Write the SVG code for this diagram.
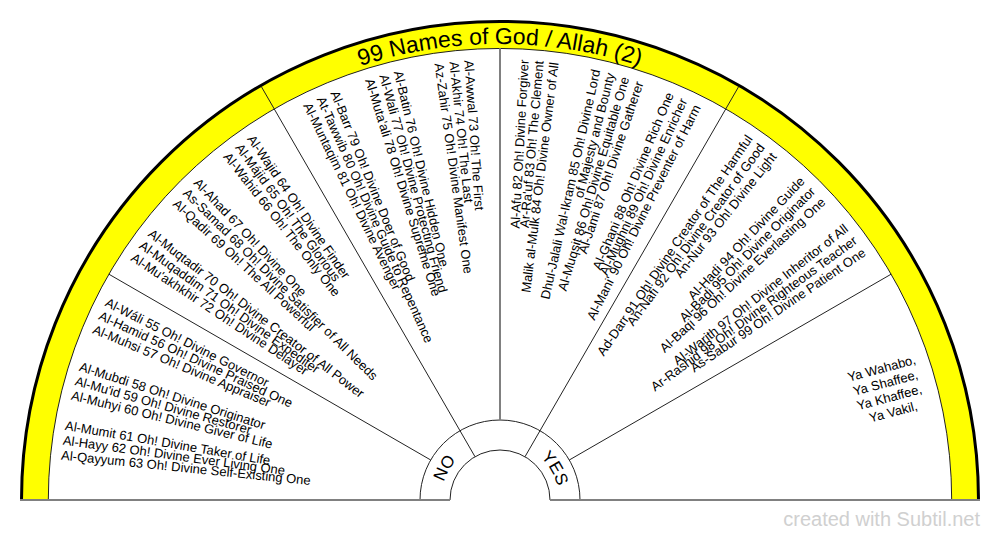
<svg xmlns="http://www.w3.org/2000/svg" width="1000" height="540" viewBox="0 0 1000 540">
<style>
.lbl{font-family:"Liberation Sans",Arial,sans-serif;font-size:13px;fill:#000}
.l{text-anchor:start}
.r{text-anchor:end}
.div{stroke:#222;stroke-width:1;fill:none}
.axis{stroke:#808080;stroke-width:2;fill:none}
.yn{font-family:"Liberation Sans",Arial,sans-serif;font-size:17px;fill:#000;text-anchor:middle}
</style>
<defs>
<path id="titleArc" d="M 44 500 A 456 456 0 0 1 956 500"/>
<path id="ynArc" d="M 441 500 A 59 59 0 0 1 559 500"/>
</defs>
<rect width="1000" height="540" fill="#fff"/>
<g id="frame">
<path d="M 22 500 A 478 478 0 0 1 978 500 L 951.7 500 A 451.7 451.7 0 0 0 48.3 500 Z" fill="#ffff00"/>
<path d="M 48.3 500 A 451.7 451.7 0 0 1 951.7 500" class="div"/>
<path d="M 21.5 500 A 478.5 478.5 0 0 1 978.5 500" fill="none" stroke="#000" stroke-width="3"/>
<path d="M 420 500 A 80 80 0 0 1 580 500" class="div"/>
<path d="M 450 500 A 50 50 0 0 1 550 500" class="div"/>
<line x1="20" y1="500" x2="450" y2="500" class="axis"/>
<line x1="550" y1="500" x2="980" y2="500" class="axis"/>
</g>
<g id="connectors">
<line x1="500" y1="420" x2="500" y2="48.3" class="axis"/>
<line x1="569.28" y1="460" x2="891.2" y2="274.15" class="div"/>
<line x1="430.72" y1="460" x2="108.8" y2="274.15" class="div"/>
<line x1="525" y1="456.7" x2="738.5" y2="86.9" class="div"/>
<line x1="475" y1="456.7" x2="261.5" y2="86.9" class="div"/>
</g>
<g id="title">
<text font-family="'Liberation Sans',Arial,sans-serif" font-size="23" fill="#000" text-anchor="middle"><textPath href="#titleArc" startOffset="50%">99 Names of God / Allah (2)</textPath></text>
</g>
<g id="no">
<text class="yn"><textPath href="#ynArc" startOffset="16.67%">NO</textPath></text>
</g>
<g id="yes">
<text class="yn"><textPath href="#ynArc" startOffset="83.33%">YES</textPath></text>
</g>
<g id="g55" class="lbl l">
<text x="59" y="504.5" transform="rotate(26.75 500 500)">Al-Wáli 55 Oh! Divine Governor</text>
<text x="59" y="504.5" transform="rotate(24.8 500 500)">Al-Hamid 56 Oh! Divine Praised One</text>
<text x="59" y="504.5" transform="rotate(22.85 500 500)">Al-Muhsi 57 Oh! Divine Appraiser</text>
</g>
<g id="g58" class="lbl l">
<text x="59" y="504.5" transform="rotate(17.65 500 500)">Al-Mubdi 58 Oh! Divine Originator</text>
<text x="59" y="504.5" transform="rotate(15.7 500 500)">Al-Mu'id 59 Oh! Divine Restorer</text>
<text x="59" y="504.5" transform="rotate(13.75 500 500)">Al-Muhyi 60 Oh! Divine Giver of Life</text>
</g>
<g id="g61" class="lbl l">
<text x="59" y="504.5" transform="rotate(9.75 500 500)">Al-Mumit 61 Oh! Divine Taker of Life</text>
<text x="59" y="504.5" transform="rotate(7.8 500 500)">Al-Hayy 62 Oh! Divine Ever Living One</text>
<text x="59" y="504.5" transform="rotate(5.85 500 500)">Al-Qayyum 63 Oh! Divine Self-Existing One</text>
</g>
<g id="g64" class="lbl l">
<text x="59" y="504.5" transform="rotate(55.55 500 500)">Al-Wajid 64 Oh! Divine Finder</text>
<text x="59" y="504.5" transform="rotate(53.6 500 500)">Al-Májid 65 Oh! The Glorious</text>
<text x="59" y="504.5" transform="rotate(51.65 500 500)">Al-Wahid 66 Oh! The Only One</text>
</g>
<g id="g67" class="lbl l">
<text x="59" y="504.5" transform="rotate(46.45 500 500)">Al-Ahad 67 Oh! Divine One</text>
<text x="59" y="504.5" transform="rotate(44.5 500 500)">As-Samad 68 Oh! Divine Satisfier of All Needs</text>
<text x="59" y="504.5" transform="rotate(42.55 500 500)">Al-Qadir 69 Oh! The All Powerful</text>
</g>
<g id="g70" class="lbl l">
<text x="59" y="504.5" transform="rotate(37.45 500 500)">Al-Muqtadir 70 Oh! Divine Creator of All Power</text>
<text x="59" y="504.5" transform="rotate(35.5 500 500)">Al-Muqaddim 71 Oh! Divine Expediter</text>
<text x="59" y="504.5" transform="rotate(33.55 500 500)">Al-Mu'akhkhir 72 Oh! Divine Delayer</text>
</g>
<g id="g73" class="lbl l">
<text x="59" y="504.5" transform="rotate(85.95 500 500)">Al-Awwal 73 Oh! The First</text>
<text x="59" y="504.5" transform="rotate(84 500 500)">Al-Akhir 74 Oh! The Last</text>
<text x="59" y="504.5" transform="rotate(82.05 500 500)">Az-Zahir 75 Oh! Divine Manifest One</text>
</g>
<g id="g76" class="lbl l">
<text x="59" y="504.5" transform="rotate(76.65 500 500)">Al-Batin 76 Oh! Divine Hidden One</text>
<text x="59" y="504.5" transform="rotate(74.7 500 500)">Al-Wali 77 Oh! Divine Protecting Friend</text>
<text x="59" y="504.5" transform="rotate(72.75 500 500)">Al-Muta'ali 78 Oh! Divine Supreme One</text>
</g>
<g id="g79" class="lbl l">
<text x="59" y="504.5" transform="rotate(67.95 500 500)">Al-Barr 79 Oh! Divine Doer of Good</text>
<text x="59" y="504.5" transform="rotate(66 500 500)">At-Tawwib 80 Oh! Divine Guide to Repentance</text>
<text x="59" y="504.5" transform="rotate(64.05 500 500)">Al-Muntaqim 81 Oh! Divine Avenger</text>
</g>
<g id="g82" class="lbl r">
<text x="941" y="504.5" transform="rotate(-86.85 500 500)">Al-Afu 82 Oh! Divine Forgiver</text>
<text x="941" y="504.5" transform="rotate(-84.9 500 500)">Ar-Ra'uf 83 Oh! The Clement</text>
<text x="941" y="504.5" transform="rotate(-82.95 500 500)">Malik al-Mulk 84 Oh! Divine Owner of All</text>
</g>
<g id="g85" class="lbl r">
<text x="941" y="504.5" transform="rotate(-77.425 500 500)">Dhul-Jalali Wal-Ikram 85 Oh! Divine Lord</text>
<text x="941" y="504.5" transform="rotate(-75.475 500 500)">of Majesty and Bounty</text>
<text x="941" y="504.5" transform="rotate(-73.525 500 500)">Al-Muqsit 86 Oh! Divine Equitable One</text>
<text x="941" y="504.5" transform="rotate(-71.575 500 500)">Al-Jami 87 Oh! Divine Gatherer</text>
</g>
<g id="g88" class="lbl r">
<text x="941" y="504.5" transform="rotate(-67.35 500 500)">Al-Ghani 88 Oh! Divine Rich One</text>
<text x="941" y="504.5" transform="rotate(-65.4 500 500)">Al-Mughni 89 Oh! Divine Enricher</text>
<text x="941" y="504.5" transform="rotate(-63.45 500 500)">Al-Mani' 90 Oh! Divine Preventer of Harm</text>
</g>
<g id="g91" class="lbl r">
<text x="941" y="504.5" transform="rotate(-55.55 500 500)">Ad-Darr 91 Oh! Divine Creator of The Harmful</text>
<text x="941" y="504.5" transform="rotate(-53.6 500 500)">An-Nafi 92 Oh! Divine Creator of Good</text>
<text x="941" y="504.5" transform="rotate(-51.65 500 500)">An-Nur 93 Oh! Divine Light</text>
</g>
<g id="g94" class="lbl r">
<text x="941" y="504.5" transform="rotate(-46.75 500 500)">Al-Hadi 94 Oh! Divine Guide</text>
<text x="941" y="504.5" transform="rotate(-44.8 500 500)">Al-Badi 95 Oh! Divine Originator</text>
<text x="941" y="504.5" transform="rotate(-42.85 500 500)">Al-Baqi 96 Oh! Divine Everlasting One</text>
</g>
<g id="g97" class="lbl r">
<text x="941" y="504.5" transform="rotate(-38.25 500 500)">Al-Warith 97 Oh! Divine Inheritor of All</text>
<text x="941" y="504.5" transform="rotate(-36.3 500 500)">Ar-Rashid 98 Oh! Divine Righteous Teacher</text>
<text x="941" y="504.5" transform="rotate(-34.35 500 500)">As-Sabur 99 Oh! Divine Patient One</text>
</g>
<g id="gYa">
<text class="lbl" text-anchor="middle" transform="translate(887.4,390.1) rotate(-15)"><tspan x="0" y="-18">Ya Wahabo,</tspan><tspan x="0" y="-3">Ya Shaffee,</tspan><tspan x="0" y="12">Ya Khaffee,</tspan><tspan x="0" y="27">Ya Vakil,</tspan></text>
</g>
<g id="watermark">
<text x="980" y="526" font-family="'Liberation Sans',Arial,sans-serif" font-size="20" fill="#d0d0d0" text-anchor="end">created with Subtil.net</text>
</g>
</svg>
